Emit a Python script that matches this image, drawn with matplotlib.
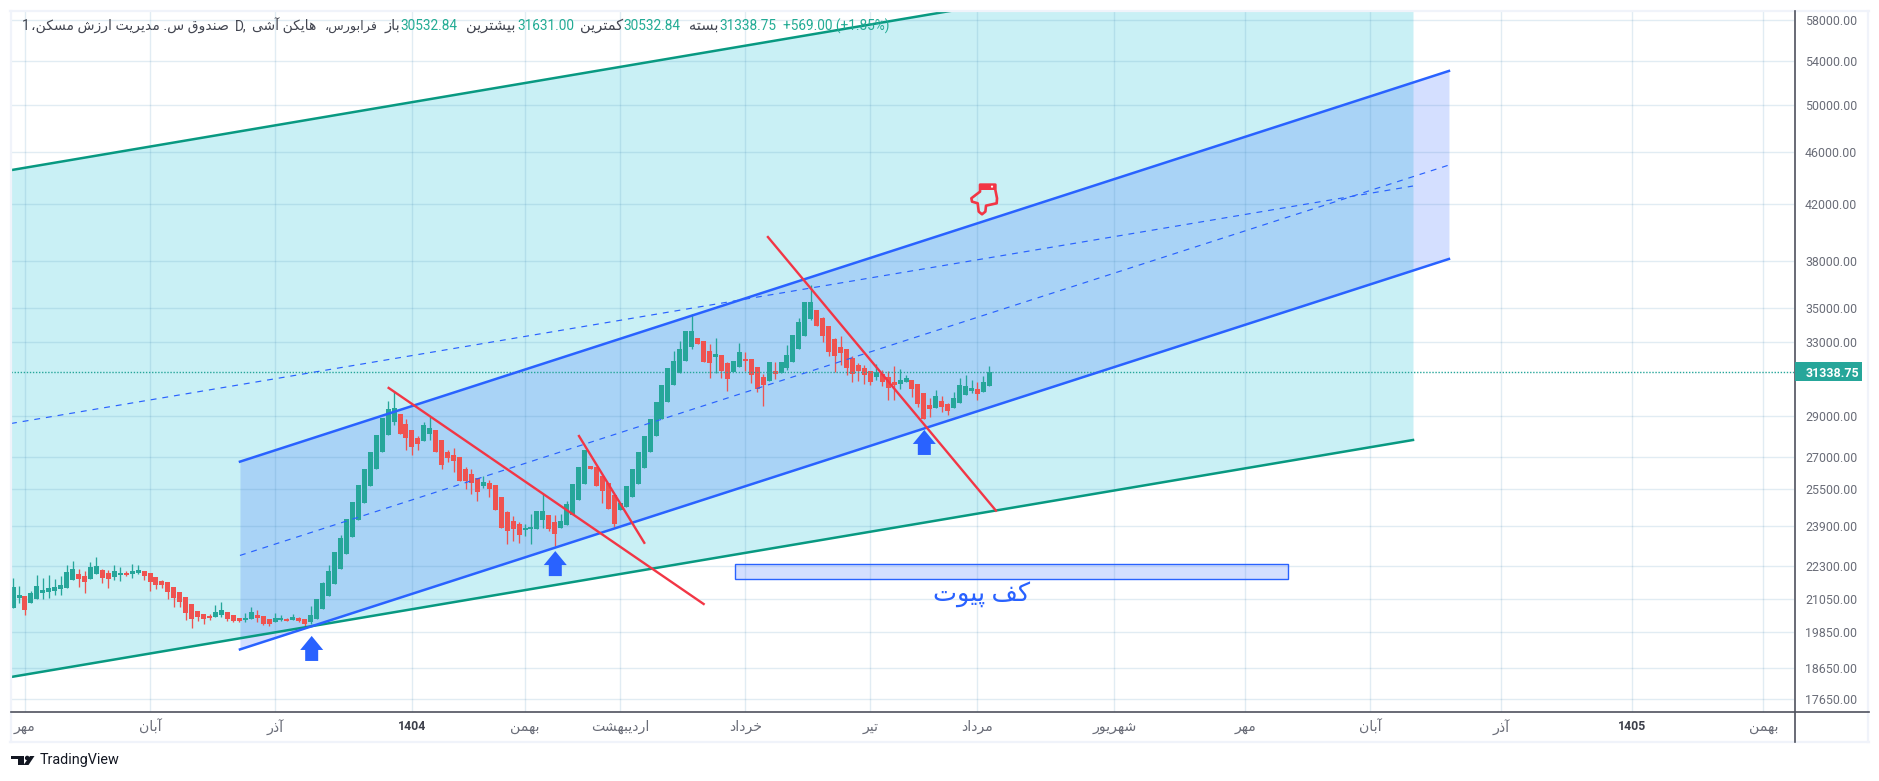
import matplotlib
matplotlib.use("Agg")
import matplotlib.pyplot as plt
import numpy as np
from matplotlib.lines import Line2D
from matplotlib.patches import Rectangle, Circle, Polygon
from matplotlib.transforms import IdentityTransform

plt.rcParams['font.family'] = ['Roboto', 'DejaVu Sans']

W, H = 1879, 781

# ---- OHLC data ----
opens = [20714,21079,21153,20896,21042,21265,21302,21339,21414,21451,21754,21984,21907,21792,21984,22138,22023,21869,21946,22023,
 21984,22023,22100,22023,21869,21716,21678,21489,21302,21116,20859,20605,20498,20426,20391,20462,20569,20462,20355,20283,
 20319,20462,20426,20319,20213,20283,20319,20283,20355,20319,20213,20319,20677,21153,21603,22177,22770,23456,24164,24895,
 25647,26422,27219,28042,28688,29093,28588,28288,27895,27749,28092,28288,27797,27219,27078,26983,26422,26189,26009,25647,
 25782,25692,25157,24506,24122,23996,23745,23787,23787,24164,24378,24080,23829,23954,24378,25025,25737,26561,26515,26101,
 25782,25249,24591,24722,25155,25737,26468,27220,27993,28838,29710,30609,31276,31921,32715,33234,33059,32485,32146,32259,
 31810,31313,31587,32034,32034,31587,31040,30823,31367,31258,31533,31866,32600,33350,34358,34903,34417,33937,33175,32715,
 32600,32090,31699,31533,31367,31040,31203,31040,30768,30662,30768,30877,30662,30182,29554,29399,29762,29606,29399,29658,
 30077,30288,30395,30235,30532.84]
highs = [21820,21527,21153,21339,21946,21818,21946,21780,21907,22334,22490,22177,22100,22451,22648,22177,22138,22334,22255,22100,
 22373,22334,22100,22023,21869,21754,21678,21489,21302,21116,20859,20605,20498,20498,20823,20932,20569,20462,20355,20534,
 20750,20641,20426,20319,20534,20462,20355,20498,20391,20319,20786,21042,21678,22330,22847,23540,24207,24938,25692,26422,
 27219,28042,28890,29760,30288,29093,28839,28288,27993,28688,28992,28288,27797,27315,27411,26983,26515,26422,26009,26101,
 25917,25692,25157,24548,24335,24080,23996,24420,24548,25293,24378,24378,24420,24981,25737,26515,27315,26561,26515,26101,
 25782,25249,24895,25647,26421,27220,27993,28838,29710,30609,31533,32485,33059,33643,34660,33234,33059,32883,33234,32259,
 31866,31921,32944,32428,32034,31587,31203,31866,31866,31866,32829,33408,34417,35397,36465,34903,34474,33937,33234,33350,
 32600,32202,31810,31699,31367,31754,31422,31367,31643,31477,31149,30877,30662,30182,29919,30341,30023,29658,30235,30986,
 31149,30877,30768,31094,31631]
lows = [20714,20884,20462,20896,21042,21042,21079,21190,21190,21451,21754,21489,21265,21792,21984,21640,21451,21754,21716,21907,
 21831,21984,21754,21339,21414,21451,21042,20750,20760,20283,20002,20248,20143,20283,20391,20391,20248,20213,20213,20213,
 20319,20213,20107,20072,20213,20248,20248,20283,20213,20072,20143,20319,20677,21153,21603,22177,22770,23456,24164,24895,
 25647,26422,27219,28042,28538,28092,27315,27078,27315,27749,27797,27219,26422,26748,26283,25872,25512,25293,24981,25557,
 25157,24591,23829,23170,23292,23210,23497,23170,23787,23829,23704,23089,23829,23954,24378,25025,25737,26422,25647,24895,
 24635,23870,24591,24722,25155,25737,26468,27220,27993,28838,29710,30609,31276,31921,32600,32883,31866,30986,31258,30986,
 30288,31313,31587,31367,30713,30235,29505,30823,30931,31258,31422,31866,32600,33350,34297,33936,33003,32202,31313,31699,
 31149,30768,30823,30660,30609,30877,30554,29814,29814,30395,30768,29972,29451,28838,28941,29399,29196,29042,29399,29658,
 30077,30182,29814,30235,30532.84]
closes = [21489,21190,20653,21265,21527,21376,21451,21489,21565,22061,22177,21792,21678,22255,22295,21831,21792,22100,22023,21946,
 22100,22138,21907,21678,21565,21565,21302,21079,20932,20534,20319,20391,20319,20355,20569,20641,20319,20248,20248,20355,
 20569,20355,20143,20143,20355,20355,20248,20391,20248,20143,20462,21042,21640,22100,22847,23415,24207,24938,25692,26422,
 27219,28042,28890,29349,29400,28092,27895,27460,27604,28538,28388,27219,26608,26936,26794,25872,25872,25782,25379,25827,
 25512,24591,23829,23704,23787,23538,23829,23870,24548,24548,23787,23579,24122,24851,25737,26515,27315,26422,25647,25422,
 24635,23996,24895,25647,26421,27220,27993,28838,29710,30609,31533,31921,32600,33643,33643,32883,31866,31810,32315,31367,
 30931,31921,32428,31921,31149,30395,30609,31866,31203,31866,32259,33408,34177,35397,35396,33936,33350,32428,32202,32372,
 31533,31203,31367,31149,30768,31313,30768,30448,30609,30877,30986,30395,29606,28838,29348,30023,29451,29246,29919,30609,
 30554,30448,30130,30769,31338.75]

price_ticks = [58000,54000,50000,46000,42000,38000,35000,33000,29000,27000,25500,23900,22300,21050,19850,18650,17650]
time_ticks = [2,23,44,67,86,102,123,144,162,185,207,228,250,272,294]
time_labels = ['مهر','آبان','آذر','1404','بهمن','اردیبهشت','خرداد','تیر','مرداد','شهریور','مهر','آبان','آذر','1405','بهمن']

# ---- drawings: (bar index, price) ----
green_x = [-0.35, 235.16]
green_top = [44590, 67600]
green_bottom = [18354, 27797]
green_mid = [28612, 43367]
blue_x = [38.11, 241.2]
blue_top = [26762, 53050]
blue_bottom = [19262, 38166]
blue_mid = [22708, 44990]
red_lines = [([63.09,116.0],[30450,20857]), ([95.06,106.03],[27990,23217]), ([126.8,165.1],[39660,24563])]
arrow_x = [50.16, 91.08, 153.07]
arrow_y = [19295, 22387, 27677]
hand_x, hand_y = 163.1, 42370
zone_x = [121.2, 214.1]
zone_y = [21802, 22360]
zone_label = 'کف پیوت'
zone_label_x, zone_label_y = 162.7, 21240
last_price = 31338.75

# ---- minimal Persian shaping (matplotlib has none) ----
FORMS = {
 'ا':('\uFE8D','\uFE8E'),'آ':('\uFE81','\uFE82'),'د':('\uFEA9','\uFEAA'),'ذ':('\uFEAB','\uFEAC'),
 'ر':('\uFEAD','\uFEAE'),'ز':('\uFEAF','\uFEB0'),'و':('\uFEED','\uFEEE'),
 'ب':('\uFE8F','\uFE90','\uFE91','\uFE92'),'پ':('\uFB56','\uFB57','\uFB58','\uFB59'),
 'ت':('\uFE95','\uFE96','\uFE97','\uFE98'),'خ':('\uFEA5','\uFEA6','\uFEA7','\uFEA8'),
 'س':('\uFEB1','\uFEB2','\uFEB3','\uFEB4'),'ش':('\uFEB5','\uFEB6','\uFEB7','\uFEB8'),
 'ص':('\uFEB9','\uFEBA','\uFEBB','\uFEBC'),'ف':('\uFED1','\uFED2','\uFED3','\uFED4'),
 'ق':('\uFED5','\uFED6','\uFED7','\uFED8'),'ک':('\uFB8E','\uFB8F','\uFB90','\uFB91'),
 'م':('\uFEE1','\uFEE2','\uFEE3','\uFEE4'),'ن':('\uFEE5','\uFEE6','\uFEE7','\uFEE8'),
 'ه':('\uFEE9','\uFEEA','\uFEEB','\uFEEC'),'ی':('\uFBFC','\uFBFD','\uFBFE','\uFBFF'),
}
def fa(s):
    if s.isdigit():
        return s
    out = []
    for i, c in enumerate(s):
        if c not in FORMS:
            out.append(c); continue
        prev = s[i-1] if i > 0 else ''
        nxt = s[i+1] if i+1 < len(s) else ''
        jp = prev in FORMS and len(FORMS[prev]) == 4
        jn = nxt in FORMS and len(FORMS[c]) == 4
        f = FORMS[c]
        if jp and jn: out.append(f[3])
        elif jp: out.append(f[1])
        elif jn: out.append(f[2])
        else: out.append(f[0])
    return ''.join(reversed(out))

fig = plt.figure(figsize=(W/100, H/100), dpi=100, facecolor='white')
L, R, T, B = 11, 1794, 11, 712
ax = fig.add_axes([L/W, (H-B)/H, (R-L)/W, (B-T)/H])
ax.set_yscale('log')
ax.set_xlim(-0.35, 299.16)
ax.set_ylim(17263, 58921)
for s in ax.spines.values():
    s.set_visible(False)
ax.minorticks_off()
ax.yaxis.tick_right()
ax.set_yticks(price_ticks)
ax.set_yticklabels([f'{p:.2f}' for p in price_ticks], fontsize=8.9, color='#6a6d78')
ax.yaxis.set_minor_locator(matplotlib.ticker.NullLocator())
ax.set_xticks(time_ticks)
ax.set_xticklabels([fa(t) for t in time_labels], fontsize=10.2, color='#6a6d78')
for lab, t in zip(ax.get_xticklabels(), time_labels):
    if t.isdigit():
        lab.set_fontweight('bold'); lab.set_color('#3c3f4a'); lab.set_fontsize(8.8)
ax.tick_params(axis='both', which='both', length=0)
ax.tick_params(axis='y', pad=8.0)
ax.tick_params(axis='x', pad=5.5)
ax.set_axisbelow('line')
ax.grid(True, which='major', color='#3780af', alpha=0.15, lw=1.0)

CYAN = (0/255, 188/255, 212/255, 0.21)
BLUE = (41/255, 98/255, 255/255, 0.2)
ax.fill_between(green_x, green_bottom, green_top, color=CYAN, lw=0, zorder=1)
ax.fill_between(blue_x, blue_bottom, blue_top, color=BLUE, lw=0, zorder=1.1)

# candles
x = np.arange(len(opens))
o, h, l, c = map(np.array, (opens, highs, lows, closes))
up = c >= o
cols = np.where(up, '#26a69a', '#ef5350')
ax.vlines(x, l, h, colors=cols, lw=0.95, zorder=3)
ax.bar(x, np.abs(c-o), bottom=np.minimum(o, c), width=0.84, color=cols, lw=0, zorder=3.1)

# last price dotted
ax.axhline(last_price, color='#26a69a', lw=1.0, ls=(0, (1, 1.2)), zorder=3.5)

# drawings
ax.plot(green_x, green_top, color='#089981', lw=1.8, zorder=4)
ax.plot(green_x, green_bottom, color='#089981', lw=1.8, zorder=4)
ax.plot(green_x, green_mid, color='#2962ff', lw=0.85, ls=(0, (5, 5)), zorder=4)
ax.plot(blue_x, blue_top, color='#2962ff', lw=1.8, zorder=4.1)
ax.plot(blue_x, blue_bottom, color='#2962ff', lw=1.8, zorder=4.1)
ax.plot(blue_x, blue_mid, color='#2962ff', lw=0.85, ls=(0, (5, 5)), zorder=4.1)
for rx, ry in red_lines:
    ax.plot(rx, ry, color='#f23645', lw=1.7, zorder=4.2)
ax.add_patch(Rectangle((zone_x[0], zone_y[0]), zone_x[1]-zone_x[0], zone_y[1]-zone_y[0],
                       facecolor=BLUE, edgecolor='#2962ff', lw=1.0, zorder=4))
ax.text(zone_label_x, zone_label_y, fa(zone_label), color='#2962ff', fontsize=18.4,
        ha='center', va='center', zorder=5)

fig.canvas.draw()
def anchor(xd, yd):
    return ax.transData.transform((xd, yd))

ARROW = np.array([[0,12.5],[11.5,-1.5],[6.5,-1.5],[6.5,-12.5],[-6.5,-12.5],[-6.5,-1.5],[-11.5,-1.5],[0,12.5]])
for ax_, ay_ in zip(arrow_x, arrow_y):
    px, py = anchor(ax_, ay_)
    fig.add_artist(Polygon(ARROW + [px, py], closed=True, facecolor='#2962ff', edgecolor='none',
                           transform=IdentityTransform(), zorder=6))

# hand
hx, hy = anchor(hand_x, hand_y)
hand = np.array([[240,44],[286,44],[286,60],[291,85],[290,100],[258,107],[256,125],[246,133],[236,125],[233,100],
                 [216,95],[214,85],[240,65],[240,44]], float)
hand_v = np.c_[(hand[:,0]-252)/3 + hx, -(hand[:,1]-88)/3 + hy]
fig.add_artist(Polygon(hand_v, closed=True, facecolor='none', edgecolor='#f23645', lw=1.9,
                       joinstyle='round', transform=IdentityTransform(), zorder=6))
cuff = np.array([[240,42],[286,42],[286,60],[240,60]], float)
fig.add_artist(Polygon(np.c_[(cuff[:,0]-252)/3 + hx, -(cuff[:,1]-88)/3 + hy], closed=True, facecolor='#f23645',
                       edgecolor='none', transform=IdentityTransform(), zorder=6))
fig.add_artist(Circle(((276-252)/3 + hx, -(50-88)/3 + hy), 1.1, facecolor='white', edgecolor='none',
                      transform=IdentityTransform(), zorder=6.1))

def P(x_, y_):
    return (x_/W, 1-y_/H)
def fline(x0, y0, x1, y1, color, lw):
    a, b = P(x0, y0), P(x1, y1)
    fig.add_artist(Line2D([a[0], b[0]], [a[1], b[1]], color=color, lw=lw, transform=fig.transFigure, zorder=7))

# frame
frame = '#f0f3fa'
fline(10, 11, 1869, 11, frame, 1.6)
fline(10, 742, 1869, 742, frame, 1.6)
fline(10.5, 11, 10.5, 742, frame, 1.6)
fline(1868, 11, 1868, 742, frame, 1.6)
fline(11, 712, 1869, 712, '#4f525e', 1.2)
fline(1794.5, 11, 1794.5, 742, '#4f525e', 1.2)

# last price tag
_, ly = anchor(0, last_price)
fig.add_artist(Rectangle((1794.5, ly-9.5), 67.5, 19, facecolor='#26a69a', edgecolor='none',
                         transform=IdentityTransform(), zorder=8))
fig.text(1806/W, ly/H, f'{last_price:.2f}', color='white', fontsize=8.9, fontweight='bold',
         ha='left', va='center_baseline', zorder=9)

# header
def head(xp, s, color='#434651', size=9.8, ha='left'):
    fig.text(xp/W, 1-26/H, s, color=color, fontsize=size, ha=ha, va='center', zorder=9)
GV = '#22ab94'
FA_SIZE = 10.5
head(22, '1')
head(31, fa('صندوق س. مدیریت ارزش مسکن،'), size=10.1)
head(235, 'D,')
head(252, fa('هایکن آشی'), size=10.0)
head(325, fa('فرابورس،'), size=9.2)
head(385, fa('باز'), size=FA_SIZE)
head(400, '30532.84', GV)
head(466, fa('بیشترین'), size=FA_SIZE)
head(517, '31631.00', GV)
head(580, fa('کمترین'), size=FA_SIZE)
head(623, '30532.84', GV)
head(689, fa('بسته'), size=FA_SIZE)
head(719, '31338.75', GV)
head(783, '+569.00 (+1.85%)', GV)

# TradingView mark and name
K = '#131722'
for poly in ([[11,756],[24.3,756],[24.3,765],[17.7,765],[17.7,759.3],[11,759.3]],
             [[34.5,756],[30,756],[23.5,765],[28.5,765]]):
    fig.add_artist(Polygon([(a, H-b) for a, b in poly], closed=True, facecolor=K, edgecolor='none',
                           transform=IdentityTransform(), zorder=9))
fig.add_artist(Circle((27.2, H-758), 2.3, facecolor=K, edgecolor='none', transform=IdentityTransform(), zorder=9))
fig.text(39.5/W, 1-760/H, 'TradingView', color=K, fontsize=10.4, ha='left', va='center', zorder=9)

fig.savefig('out.png', dpi=100, facecolor='white')
